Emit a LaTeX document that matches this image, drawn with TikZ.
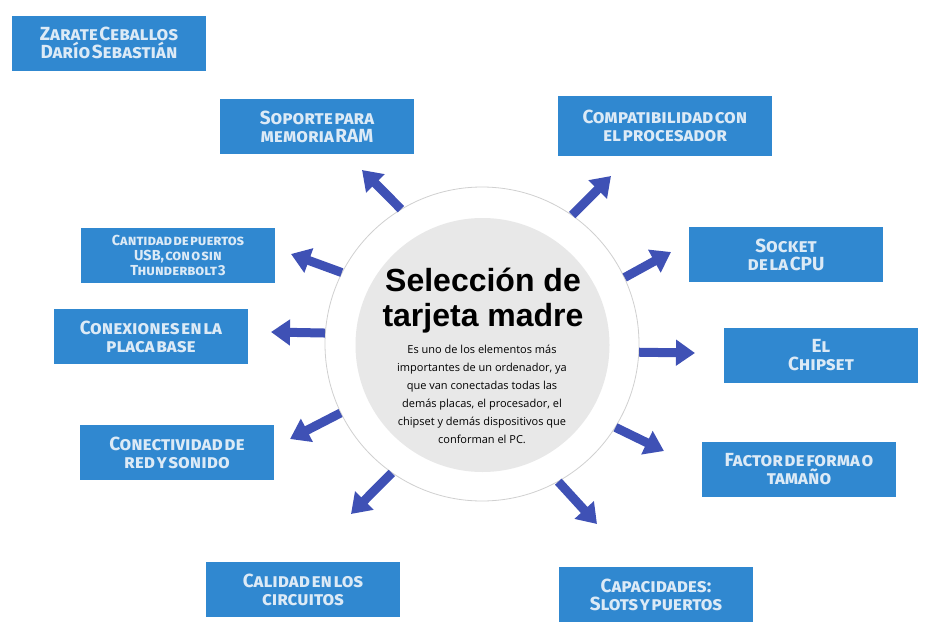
\documentclass[tikz,border=0pt]{standalone}
\usepackage{fontspec}
\usepackage{xcolor}
\usepackage{tikz}
\usetikzlibrary{arrows.meta}
\newfontfamily\titlefont{Liberation Sans}
\newfontfamily\bodyfont{Open Sans}
\newfontfamily\boxfont{Fira Sans}[Letters=SmallCaps,WordSpace=0.35]
\definecolor{boxblue}{HTML}{3088D0}
\definecolor{boxtext}{HTML}{DCEAF6}
\definecolor{arrowblue}{HTML}{3F51B5}
\definecolor{ringgray}{HTML}{D0D0D0}
\definecolor{coregray}{HTML}{E8E8E8}
\tikzset{
  topic/.style={fill=boxblue, text=boxtext, minimum width=194pt, minimum height=55pt,
    inner sep=0pt, align=center, font=\boxfont\bfseries\fontsize{19}{18}\selectfont},
  bigarrow/.style={arrowblue, line width=9pt, -{Triangle[width=25pt,length=19pt]}}
}
\begin{document}
\begin{tikzpicture}[x=1pt,y=-1pt]
	\useasboundingbox (0,0) rectangle (932,624);
	% centre
	\node[circle, draw=ringgray, line width=0.8pt, fill=white, minimum size=314pt, inner sep=0pt] (ring) at (482,344) {};
	\node[circle, fill=coregray, minimum size=254pt, inner sep=0pt] (core) at (482.5,345) {};
	\node[font=\titlefont\bfseries\fontsize{32}{35}\selectfont, align=center] (title) at (483,301) {Selección de\\tarjeta madre};
	\node[font=\bodyfont\fontsize{11}{18}\selectfont, align=center] (desc) at (482,394)
		{Es uno de los elementos más\\importantes de un ordenador, ya\\que van conectadas todas las\\demás placas, el procesador, el\\chipset y demás dispositivos que\\conforman el PC.};
	% boxes
	\node[topic] (autor) at (109,43) {Zarate Ceballos\\Darío Sebastián};
	\node[topic] (ram) at (317,126.5) {Soporte para\\memoria RAM};
	\node[topic, minimum width=214pt, minimum height=60pt] (compat) at (665,126) {Compatibilidad con\\el procesador};
	\node[topic] (socket) at (786,254.5) {Socket\\de la CPU};
	\node[topic] (chipset) at (821,355.5) {El\\Chipset};
	\node[topic] (factor) at (799,469) {Factor de forma o\\tamaño};
	\node[topic] (capac) at (656,594.5) {Capacidades:\\Slots y puertos};
	\node[topic] (calidad) at (303,589.5) {Calidad en los\\circuitos};
	\node[topic] (red) at (177,452.5) {Conectividad de\\red y sonido};
	\node[topic] (placa) at (151,336.5) {Conexiones en la\\placa base};
	\node[topic, font=\boxfont\bfseries\fontsize{14.5}{15}\selectfont] (usb) at (178,255) {Cantidad de puertos\\USB, con o sin\\Thunderbolt 3};
	% arrow tips
	\coordinate (tRam) at (362,170);
	\coordinate (tCompat) at (611,176);
	\coordinate (tSocket) at (671,252);
	\coordinate (tChipset) at (695,353);
	\coordinate (tFactor) at (664,451);
	\coordinate (tCapac) at (597,524);
	\coordinate (tCalidad) at (351,514);
	\coordinate (tRed) at (290,439);
	\coordinate (tPlaca) at (271,332);
	\coordinate (tUsb) at (291,254);
	\foreach \a/\t in {121.5/tRam, 55/tCompat, 25/tSocket, -3/tChipset, -32/tFactor,
		-61.3/tCapac, -125.5/tCalidad, -154/tRed, 176/tPlaca, 153.8/tUsb} {
		\draw[bigarrow] (ring.\a) -- (\t);
	}
\end{tikzpicture}
\end{document}
